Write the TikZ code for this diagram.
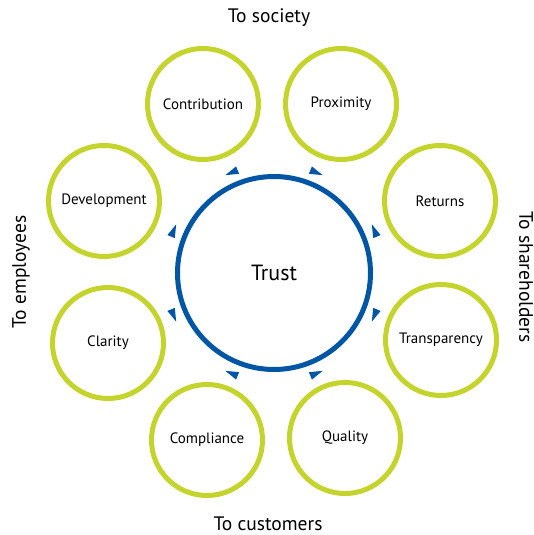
\documentclass[tikz,border=0pt]{standalone}
\usepackage{fontspec}
\setmainfont{PT Sans}
\usepackage{tikz}

\definecolor{lime}{RGB}{196,212,44}
\definecolor{trustblue}{RGB}{0,86,164}

\begin{document}
\begin{tikzpicture}[
  x=1pt, y=1pt,
  trustring/.style={draw=trustblue, circle, line width=5pt, minimum size=193pt, font=\fontsize{22}{25}\selectfont},
  value/.style={draw=lime, circle, line width=5pt, minimum size=111pt, inner sep=0pt, font=\fontsize{15}{18}\selectfont},
  side/.style={font=\fontsize{19.5}{22}\selectfont},
  tip/.style={fill=trustblue}
]
\useasboundingbox (-274,-262) rectangle (259,273);

\node[trustring] (trust) at (0,0) {Trust};

% the eight values, two for each side
\node[value] (contribution) at (-71,169)  {Contribution};
\node[value] (proximity)    at (67,169)   {Proximity};
\node[value] (returns)      at (166,72)   {Returns};
\node[value] (transparency) at (167,-67)  {Transparency};
\node[value] (quality)      at (71,-165)  {Quality};
\node[value] (compliance)   at (-67,-167) {Compliance};
\node[value] (clarity)      at (-166,-70) {Clarity};
\node[value] (development)  at (-170,72)  {Development};

\node[side] (society) at (-5,255) {To society};
\node[side] (customers) at (-6,-251) {To customers};
\node[side, rotate=90] (employees) at (-253,1) {To employees};
\node[side, rotate=-90] (shareholders) at (252,-4) {To shareholders};

% small heads on the ring, pointing towards each value
\foreach \a/\r in {112.5/202.5, 67.5/-22.5, 22.5/112.5, -22.5/-112.5,
                   -67.5/22.5, -112.5/157.5, 202.5/292.5, 157.5/67.5}
  \fill[tip] ([shift={(\a:109)}]\r:7.5) -- ([shift={(\a:109)}]\r+145:7)
    -- ([shift={(\a:109)}]\r-145:7) -- cycle;
\end{tikzpicture}
\end{document}
